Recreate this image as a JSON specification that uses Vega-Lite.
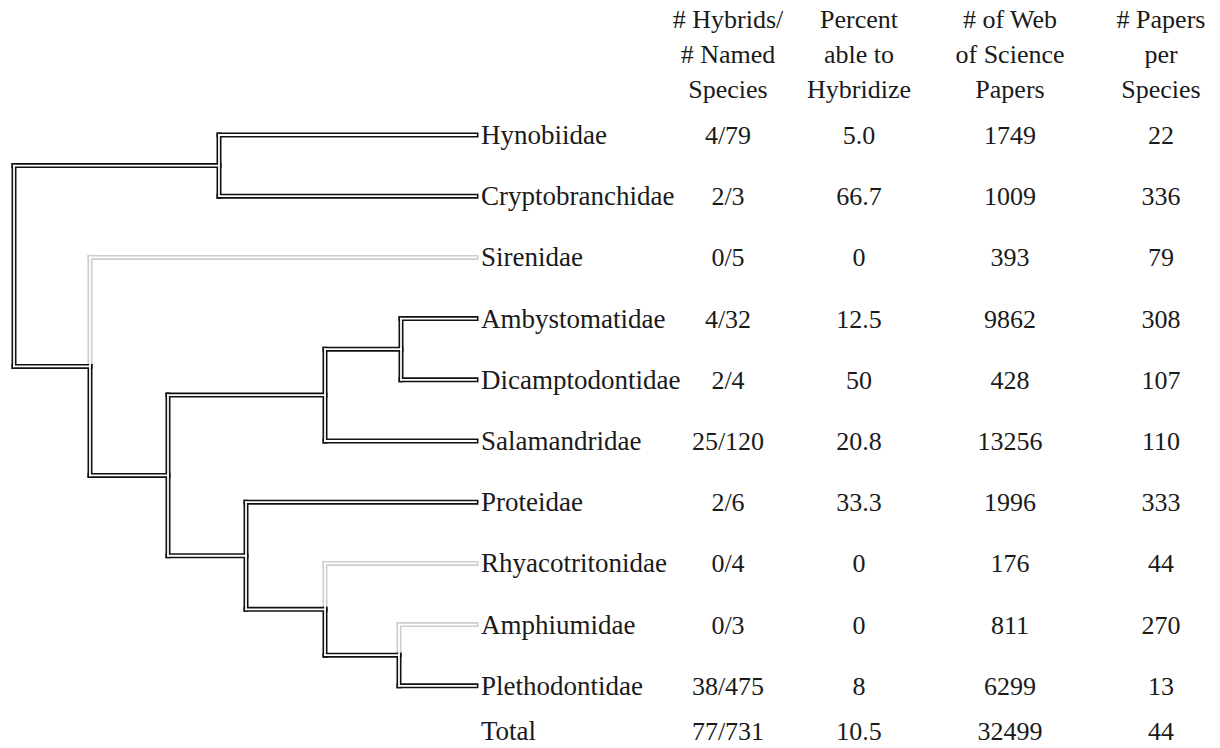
{
  "$schema": "https://vega.github.io/schema/vega-lite/v6.json",
  "width": 1220,
  "height": 748,
  "padding": 0,
  "autosize": {"type": "none"},
  "background": "white",
  "config": {"view": {"stroke": null}, "font": "Liberation Serif"},
  "datasets": {
    "segments": [
      {"x": 90, "x2": 90, "y": 2, "y2": 3.78125, "hybrid": "no"},
      {"x": 90, "x2": 476, "y": 2, "y2": 2, "hybrid": "no"},
      {"x": 325, "x2": 325, "y": 7, "y2": 7.75, "hybrid": "no"},
      {"x": 325, "x2": 476, "y": 7, "y2": 7, "hybrid": "no"},
      {"x": 399, "x2": 399, "y": 8, "y2": 8.5, "hybrid": "no"},
      {"x": 399, "x2": 476, "y": 8, "y2": 8, "hybrid": "no"},
      {"x": 14, "x2": 14, "y": 0.5, "y2": 3.78125, "hybrid": "yes"},
      {"x": 14, "x2": 219, "y": 0.5, "y2": 0.5, "hybrid": "yes"},
      {"x": 219, "x2": 219, "y": 0, "y2": 1, "hybrid": "yes"},
      {"x": 219, "x2": 476, "y": 0, "y2": 0, "hybrid": "yes"},
      {"x": 219, "x2": 476, "y": 1, "y2": 1, "hybrid": "yes"},
      {"x": 14, "x2": 90, "y": 3.78125, "y2": 3.78125, "hybrid": "yes"},
      {"x": 90, "x2": 90, "y": 3.78125, "y2": 5.5625, "hybrid": "yes"},
      {"x": 90, "x2": 168, "y": 5.5625, "y2": 5.5625, "hybrid": "yes"},
      {"x": 168, "x2": 168, "y": 4.25, "y2": 6.875, "hybrid": "yes"},
      {"x": 168, "x2": 325, "y": 4.25, "y2": 4.25, "hybrid": "yes"},
      {"x": 325, "x2": 325, "y": 3.5, "y2": 5, "hybrid": "yes"},
      {"x": 325, "x2": 401, "y": 3.5, "y2": 3.5, "hybrid": "yes"},
      {"x": 401, "x2": 401, "y": 3, "y2": 4, "hybrid": "yes"},
      {"x": 401, "x2": 476, "y": 3, "y2": 3, "hybrid": "yes"},
      {"x": 401, "x2": 476, "y": 4, "y2": 4, "hybrid": "yes"},
      {"x": 325, "x2": 476, "y": 5, "y2": 5, "hybrid": "yes"},
      {"x": 168, "x2": 246, "y": 6.875, "y2": 6.875, "hybrid": "yes"},
      {"x": 246, "x2": 246, "y": 6, "y2": 7.75, "hybrid": "yes"},
      {"x": 246, "x2": 476, "y": 6, "y2": 6, "hybrid": "yes"},
      {"x": 246, "x2": 325, "y": 7.75, "y2": 7.75, "hybrid": "yes"},
      {"x": 325, "x2": 325, "y": 7.75, "y2": 8.5, "hybrid": "yes"},
      {"x": 325, "x2": 399, "y": 8.5, "y2": 8.5, "hybrid": "yes"},
      {"x": 399, "x2": 399, "y": 8.5, "y2": 9, "hybrid": "yes"},
      {"x": 399, "x2": 476, "y": 9, "y2": 9, "hybrid": "yes"}
    ],
    "table": [
      {"row": 0, "name": "Hynobiidae", "frac": "4/79", "pct": "5.0", "papers": "1749", "per": "22"},
      {"row": 1, "name": "Cryptobranchidae", "frac": "2/3", "pct": "66.7", "papers": "1009", "per": "336"},
      {"row": 2, "name": "Sirenidae", "frac": "0/5", "pct": "0", "papers": "393", "per": "79"},
      {"row": 3, "name": "Ambystomatidae", "frac": "4/32", "pct": "12.5", "papers": "9862", "per": "308"},
      {"row": 4, "name": "Dicamptodontidae", "frac": "2/4", "pct": "50", "papers": "428", "per": "107"},
      {"row": 5, "name": "Salamandridae", "frac": "25/120", "pct": "20.8", "papers": "13256", "per": "110"},
      {"row": 6, "name": "Proteidae", "frac": "2/6", "pct": "33.3", "papers": "1996", "per": "333"},
      {"row": 7, "name": "Rhyacotritonidae", "frac": "0/4", "pct": "0", "papers": "176", "per": "44"},
      {"row": 8, "name": "Amphiumidae", "frac": "0/3", "pct": "0", "papers": "811", "per": "270"},
      {"row": 9, "name": "Plethodontidae", "frac": "38/475", "pct": "8", "papers": "6299", "per": "13"},
      {"row": 9.74, "name": "Total", "frac": "77/731", "pct": "10.5", "papers": "32499", "per": "44"}
    ],
    "headers": [
      {"key": "frac", "col": 1, "label": "# Hybrids/\n# Named\nSpecies"},
      {"key": "pct", "col": 2, "label": "Percent\nable to\nHybridize"},
      {"key": "papers", "col": 3, "label": "# of Web\nof Science\nPapers"},
      {"key": "per", "col": 4, "label": "# Papers\nper\nSpecies"}
    ]
  },
  "layer": [
    {
      "data": {"name": "segments"},
      "transform": [{"filter": "datum.hybrid === 'no'"}],
      "mark": {"type": "rule", "strokeWidth": 5, "strokeCap": "square", "color": "#cdcdcd"},
      "encoding": {
        "x": {"field": "x", "type": "quantitative", "scale": {"domain": [0, 1220], "nice": false, "zero": false}, "axis": null},
        "x2": {"field": "x2"},
        "y": {"field": "y", "type": "quantitative", "scale": {"domain": [-2.206, 10.016], "reverse": true, "nice": false, "zero": false}, "axis": null},
        "y2": {"field": "y2"}
      }
    },
    {
      "data": {"name": "segments"},
      "transform": [{"filter": "datum.hybrid === 'yes'"}],
      "mark": {"type": "rule", "strokeWidth": 5, "strokeCap": "square", "color": "#111111"},
      "encoding": {
        "x": {"field": "x", "type": "quantitative", "scale": {"domain": [0, 1220], "nice": false, "zero": false}, "axis": null},
        "x2": {"field": "x2"},
        "y": {"field": "y", "type": "quantitative", "scale": {"domain": [-2.206, 10.016], "reverse": true, "nice": false, "zero": false}, "axis": null},
        "y2": {"field": "y2"}
      }
    },
    {
      "data": {"name": "segments"},
      "mark": {"type": "rule", "strokeWidth": 1.8, "strokeCap": "square", "color": "#ffffff"},
      "encoding": {
        "x": {"field": "x", "type": "quantitative", "scale": {"domain": [0, 1220], "nice": false, "zero": false}, "axis": null},
        "x2": {"field": "x2"},
        "y": {"field": "y", "type": "quantitative", "scale": {"domain": [-2.206, 10.016], "reverse": true, "nice": false, "zero": false}, "axis": null},
        "y2": {"field": "y2"}
      }
    },
    {
      "data": {"name": "table"},
      "mark": {"type": "text", "align": "left", "baseline": "middle", "dy": 1, "fontSize": 27, "color": "#1a1a1a", "font": "Liberation Serif"},
      "encoding": {
        "x": {"datum": 481, "type": "quantitative", "scale": {"domain": [0, 1220], "nice": false, "zero": false}, "axis": null},
        "y": {"field": "row", "type": "quantitative", "scale": {"domain": [-2.206, 10.016], "reverse": true, "nice": false, "zero": false}, "axis": null},
        "text": {"field": "name"}
      }
    },
    {
      "data": {"name": "table"},
      "transform": [
        {"fold": ["frac", "pct", "papers", "per"], "as": ["key", "value"]},
        {"lookup": "key", "from": {"data": {"name": "headers"}, "key": "key", "fields": ["col"]}}
      ],
      "mark": {"type": "text", "align": "center", "baseline": "middle", "dy": 1, "fontSize": 26, "color": "#1a1a1a", "font": "Liberation Serif"},
      "encoding": {
        "x": {"field": "col", "type": "quantitative", "scale": {"domain": [1, 2, 3, 4], "range": [728, 859, 1010, 1161], "nice": false, "zero": false}, "axis": null},
        "y": {"field": "row", "type": "quantitative", "scale": {"domain": [-2.206, 10.016], "reverse": true, "nice": false, "zero": false}, "axis": null},
        "text": {"field": "value"}
      }
    },
    {
      "data": {"name": "headers"},
      "mark": {"type": "text", "align": "center", "baseline": "alphabetic", "lineBreak": "\n", "lineHeight": 35, "fontSize": 26, "color": "#1a1a1a", "font": "Liberation Serif"},
      "encoding": {
        "x": {"field": "col", "type": "quantitative", "scale": {"domain": [1, 2, 3, 4], "range": [728, 859, 1010, 1161], "nice": false, "zero": false}, "axis": null},
        "y": {"datum": -1.75, "type": "quantitative", "scale": {"domain": [-2.206, 10.016], "reverse": true, "nice": false, "zero": false}, "axis": null},
        "text": {"field": "label"}
      }
    }
  ],
  "resolve": {"scale": {"x": "independent"}}
}
